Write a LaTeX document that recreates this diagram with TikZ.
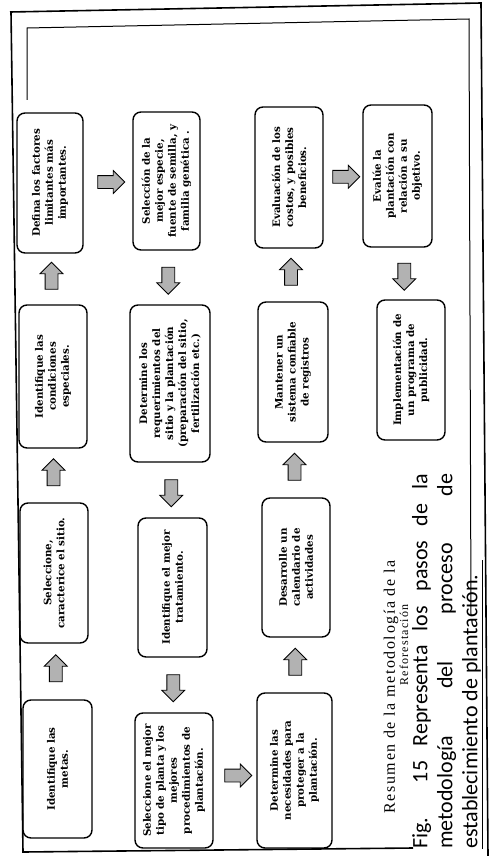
\documentclass[tikz,border=0pt]{standalone}
\usepackage{fontspec}
\setmainfont{DejaVu Serif}
\newfontfamily\capfont{Carlito}
\newfontfamily\resfont{Liberation Serif}[LetterSpace=10]
\usetikzlibrary{shapes.arrows,calc}
\begin{document}
\begin{tikzpicture}[x=1pt,y=-1pt,
  box/.style={draw, line width=1.4pt, rounded corners=8pt, rotate=90, align=center,
    font=\bfseries\fontsize{10.3}{13}\selectfont, inner sep=2pt},
  barrow/.style={single arrow, draw, line width=0.8pt, fill=gray!60,
    minimum height=27pt, single arrow head extend=5pt, inner sep=0pt},
  framel/.style={line width=1.6pt},
  innerl/.style={line width=1pt},
]
\useasboundingbox[fill=white] (0,0) rectangle (490,856);

% frames
\draw[framel] (11,12) -- (23,852) -- (413,848);
\draw[framel] (10,12) -- (481,3) -- (488,856);
\draw[innerl] (27,100) -- (27,28) -- (469,19) -- (471,616);

% boxes
\node[box, minimum width=138pt, minimum height=69pt] (A) at (57.5,769) {Identifique las\\metas.};
\node[box, minimum width=140pt, minimum height=68pt] (B) at (54,573) {Seleccione,\\caracterice el sitio.};
\node[box, minimum width=143pt, minimum height=68pt] (C) at (53,376.5) {Identifique las\\condiciones\\especiales.};
\node[box, minimum width=140pt, minimum height=66pt] (D) at (50,183) {Defina los factores\\limitantes más\\importantes.};
\node[box, minimum width=138pt, minimum height=67pt] (E) at (166.5,181) {Selección de la\\mejor especie,\\fuente de semilla, y\\familia genética .};
\node[box, minimum width=157pt, minimum height=80pt] (F) at (170,383.5) {Determine los\\requerimientos del\\sitio y la plantación\\(preparación del sitio,\\fertilización etc.)};
\node[box, minimum width=139pt, minimum height=69pt] (G) at (172.5,587.5) {Identifique el mejor\\tratamiento.};
\node[box, minimum width=135pt, minimum height=78pt] (H) at (174,780.5) {Seleccione el mejor\\tipo de planta y los\\mejores\\procedimientos de\\plantación.};
\node[box, minimum width=155pt, minimum height=75pt] (I) at (294.5,770.5) {Determine las\\necesidades para\\proteger a la\\plantación.};
\node[box, minimum width=139pt, minimum height=68pt] (J) at (296,567.5) {Desarrolle un\\calendario de\\actividades};
\node[box, minimum width=140pt, minimum height=70pt] (K) at (293,372) {Mantener un\\sistema confiable\\de registros};
\node[box, minimum width=141pt, minimum height=68pt] (L) at (289,177.5) {Evaluación de los\\costos, y posibles\\beneficios.};
\node[box, minimum width=142pt, minimum height=69pt] (M) at (397.5,176) {Evalúe la\\plantación con\\relación a su\\objetivo.};
\node[box, minimum width=140pt, minimum height=68pt] (N) at (411,370) {Implementación de\\un programa de\\publicidad.};

% block arrows
\newcommand\shaftrule{\rule{0pt}{12pt}}
\node[barrow, rotate=90]  (a1)  at ($(A.east)!.5!(B.west)$) {\shaftrule};
\node[barrow, rotate=90]  (a2)  at ($(B.east)!.5!(C.west)$) {\shaftrule};
\node[barrow, rotate=90]  (a3)  at ($(C.east)!.5!(D.west)$) {\shaftrule};
\node[barrow]             (a4)  at ($(D.south)!.5!(E.north)$) {\shaftrule};
\node[barrow, rotate=-90] (a5)  at ($(E.west)!.5!(F.east)$) {\shaftrule};
\node[barrow, rotate=-90] (a6)  at ($(F.west)!.5!(G.east)$) {\shaftrule};
\node[barrow, rotate=-90] (a7)  at ($(G.west)!.5!(H.east)$) {\shaftrule};
\node[barrow]             (a8)  at ($(H.south)!.5!(I.north)$) {\shaftrule};
\node[barrow, rotate=90]  (a9)  at ($(I.east)!.5!(J.west)$) {\shaftrule};
\node[barrow, rotate=90]  (a10) at ($(J.east)!.5!(K.west)$) {\shaftrule};
\node[barrow, rotate=90]  (a11) at ($(K.east)!.5!(L.west)$) {\shaftrule};
\node[barrow]             (a12) at ($(L.south)!.5!(M.north)$) {\shaftrule};
\node[barrow, rotate=-90] (a13) at ($(M.west)!.5!(N.east)$) {\shaftrule};

% captions
\node[rotate=90, inner sep=0pt, font=\resfont\fontsize{16}{16}\selectfont] (r1) at (391,687) {Resumen de la metodología de la};
\node[rotate=90, inner sep=0pt, font=\resfont\fontsize{12}{12}\selectfont] (r2) at (404,645) {Reforestación};
\node[rotate=90, anchor=north west, inner sep=0pt, align=left,
  font=\capfont\fontsize{22}{25}\selectfont] (cap) at (412,849)
  {\makebox[375pt][s]{Fig. 15 Representa los pasos de la}\\
   \makebox[375pt][s]{metodología del proceso de}\\
   establecimiento de plantación.};
\coordinate (u1) at (482.5,849);
\coordinate (u2) at (482.5,560);
\draw[line width=1pt] (u1) -- (u2);
\end{tikzpicture}
\end{document}
